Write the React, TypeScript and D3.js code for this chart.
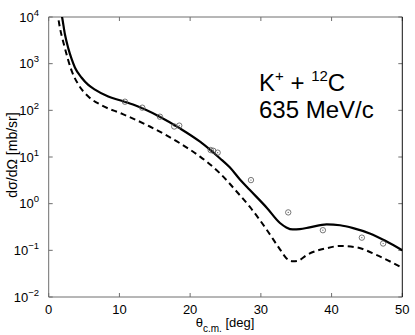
import React from 'react';
import * as d3 from 'd3';

// solid curve (full calculation)
const solidAngles = [1.7, 1.92, 2.3, 2.77, 3.25, 3.72, 4.66, 5.6, 6.54, 8.42, 10.2, 12.2, 15.7, 18.56, 21.4, 24.2, 25.6, 27.04, 28.45, 30.86, 32.7, 33.6, 34.5, 35.5, 36.9, 39.3, 41.2, 43.05, 45.4, 47.6, 50];
const solidValues = [14000, 9400, 4200, 2130, 1250, 820, 500, 350, 278, 198, 162, 128, 73, 41, 21.3, 9.4, 6.0, 3.3, 1.96, 0.81, 0.385, 0.31, 0.28, 0.285, 0.31, 0.36, 0.345, 0.30, 0.23, 0.16, 0.10];

// dashed curve
const dashedAngles = [1.2, 1.36, 2.3, 3.25, 4.18, 5.6, 7.49, 10.4, 14.3, 18.56, 21.4, 24.2, 26.6, 28.45, 30.8, 32.7, 33.6, 34.57, 35.3, 36.47, 39.3, 41.2, 43.5, 46.4, 50];
const dashedValues = [14000, 9400, 2130, 700, 360, 198, 128, 84, 45, 19.7, 10.2, 4.5, 1.8, 0.85, 0.28, 0.105, 0.068, 0.058, 0.06, 0.079, 0.111, 0.124, 0.116, 0.079, 0.042];

// measured points
const dataAngles = [10.78, 13.23, 15.73, 17.75, 18.46, 22.9, 23.27, 23.89, 28.6, 33.87, 38.77, 44.28, 47.29];
const dataValues = [153, 114, 73, 45, 47, 14.1, 13.6, 12.4, 3.2, 0.65, 0.27, 0.187, 0.14];

const xTicks = [0, 10, 20, 30, 40, 50];
const yExponents = [-2, -1, 0, 1, 2, 3, 4];

const W = 415, H = 335;
const margin = { left: 48.7, right: 12.7, top: 17, bottom: 38 };
const font = '"Liberation Sans", Arial, Helvetica, sans-serif';

export default function App() {
  const x = d3.scaleLinear().domain([0, 50]).range([margin.left, W - margin.right]);
  const y = d3.scaleLog().domain([1e-2, 1e4]).range([H - margin.bottom, margin.top]);
  const [x0, x1] = x.range();
  const [y0, y1] = y.range();

  const line = d3.line<[number, number]>()
    .x(d => x(d[0]))
    .y(d => y(d[1]))
    .curve(d3.curveMonotoneX);

  const solid = line(solidAngles.map((a, i) => [a, solidValues[i]]) as [number, number][]);
  const dashed = line(dashedAngles.map((a, i) => [a, dashedValues[i]]) as [number, number][]);

  const tickLen = 4;
  const frame = '#6e6e6e';

  return (
    <div style={{ position: 'absolute', left: 0, top: 0 }}>
      <svg width={W} height={H} style={{ display: 'block', background: '#fff' }} fontFamily={font}>
        <defs>
          <clipPath id="plot">
            <rect x={x0} y={y1} width={x1 - x0} height={y0 - y1} />
          </clipPath>
        </defs>

        {/* ticks */}
        {xTicks.map(t => (
          <g key={'xt' + t}>
            <line x1={x(t)} x2={x(t)} y1={y0} y2={y0 - tickLen} stroke={frame} />
            <line x1={x(t)} x2={x(t)} y1={y1} y2={y1 + tickLen} stroke={frame} />
            <text x={x(t)} y={313.5} textAnchor="middle" fontSize={13}>{t}</text>
          </g>
        ))}
        {yExponents.map(e => (
          <g key={'yt' + e}>
            <line x1={x0} x2={x0 + tickLen} y1={y(Math.pow(10, e))} y2={y(Math.pow(10, e))} stroke={frame} />
            <line x1={x1} x2={x1 - tickLen} y1={y(Math.pow(10, e))} y2={y(Math.pow(10, e))} stroke={frame} />
            <text x={39} y={y(Math.pow(10, e)) + 4.5} textAnchor="end" fontSize={13}>
              10<tspan dy={-6} fontSize={9.5}>{e < 0 ? '\u2212' + Math.abs(e) : e}</tspan>
            </text>
          </g>
        ))}

        {/* frame */}
        <line x1={x0} x2={x1} y1={y1} y2={y1} stroke={frame} />
        <line x1={x0} x2={x1} y1={y0} y2={y0} stroke={frame} />
        <line x1={x0} x2={x0} y1={y1} y2={y0} stroke={frame} />
        <line x1={x1} x2={x1} y1={y1} y2={y0} stroke="#111" />

        {/* curves */}
        <g clipPath="url(#plot)">
          <path d={dashed ?? ''} fill="none" stroke="#000" strokeWidth={2} strokeDasharray="6,4" />
          <path d={solid ?? ''} fill="none" stroke="#000" strokeWidth={2.2} />
        </g>

        {/* data */}
        {dataAngles.map((a, i) => (
          <g key={'d' + i}>
            <circle cx={x(a)} cy={y(dataValues[i])} r={2.7} fill="none" stroke="#555" strokeWidth={0.8} />
            <circle cx={x(a)} cy={y(dataValues[i])} r={0.6} fill="#555" />
          </g>
        ))}

        {/* labels */}
        <text x={259} y={91} fontSize={24}>
          K<tspan dy={-10} fontSize={15}>+</tspan><tspan dy={10}> + </tspan><tspan dy={-10} fontSize={15}>12</tspan><tspan dy={10}>C</tspan>
        </text>
        <text x={259} y={118} fontSize={24}>635 MeV/c</text>

        <text x={225} y={327} textAnchor="middle" fontSize={13}>
          θ<tspan dy={5} fontSize={10}>c.m.</tspan><tspan dy={-5}> [deg]</tspan>
        </text>
        <text transform={`translate(17,155) rotate(-90)`} textAnchor="middle" fontSize={14}>
          dσ/dΩ [mb/sr]
        </text>
      </svg>
    </div>
  );
}
